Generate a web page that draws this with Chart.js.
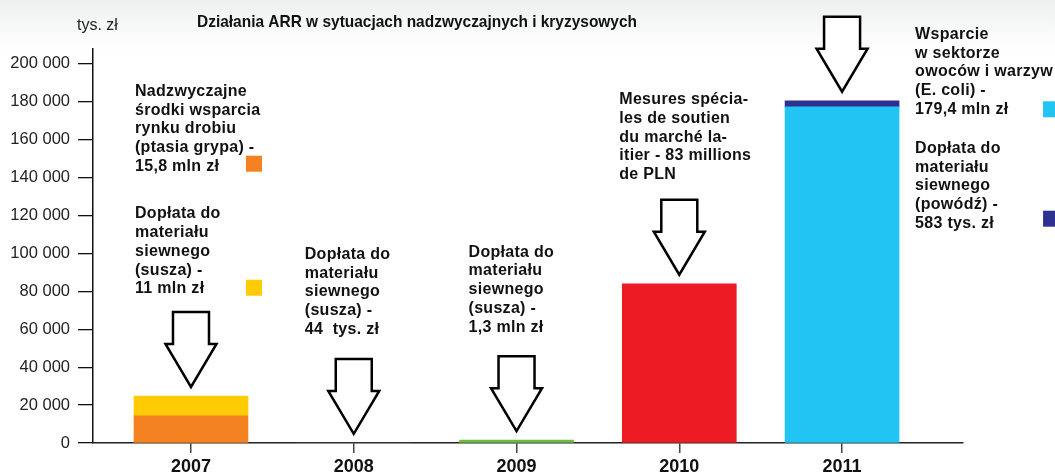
<!DOCTYPE html>
<html>
<head>
<meta charset="utf-8">
<script src="https://cdn.jsdelivr.net/npm/chart.js@4.4.1/dist/chart.umd.min.js"></script>
<style>
  html, body { margin: 0; padding: 0; background: #fff; }
  canvas { display: block; }
</style>
</head>
<body>
<canvas id="c" width="1055" height="474"></canvas>
<script>
// ---- data (tys. zł) ----
const years = [2007, 2008, 2009, 2010, 2011];
const yTicks = [0, 20000, 40000, 60000, 80000, 100000, 120000, 140000, 160000, 180000, 200000];
const ptasiaGrypa = [14300, 0, 0, 0, 0];
const susza2007 = [10500, 0, 0, 0, 0];
const susza2008 = [0, 44, 0, 0, 0];
const susza2009 = [0, 0, 1500, 0, 0];
const rynekMleka = [0, 0, 0, 84000, 0];
const eColi = [0, 0, 0, 0, 177300];
const powodz = [0, 0, 0, 0, 3200];

const chartTitle = 'Działania ARR w sytuacjach nadzwyczajnych i kryzysowych';
const unitLabel = 'tys. zł';
const note2007a = ['Nadzwyczajne', 'środki wsparcia', 'rynku drobiu', '(ptasia grypa) -', '15,8 mln zł'];
const note2007b = ['Dopłata do', 'materiału', 'siewnego', '(susza) -', '11 mln zł'];
const note2008 = ['Dopłata do', 'materiału', 'siewnego', '(susza) -', '44  tys. zł'];
const note2009 = ['Dopłata do', 'materiału', 'siewnego', '(susza) -', '1,3 mln zł'];
const note2010 = ['Mesures spécia-', 'les de soutien', 'du marché la-', 'itier - 83 millions', 'de PLN'];
const note2011a = ['Wsparcie', 'w sektorze', 'owoców i warzyw', '(E. coli) -', '179,4 mln zł'];
const note2011b = ['Dopłata do', 'materiału', 'siewnego', '(powódź) -', '583 tys. zł'];

// ---- styles ----
const C = {
  orange: '#F58220', yellow: '#FFCB05', green: '#6CBD45',
  red: '#ED1C24', cyan: '#21C4F2', navy: '#2E3192'
};

function mk(label, arr, color) {
  return {
    label: label,
    data: years.map((x, i) => ({ x: x, y: arr[i] })).filter(p => p.y > 0),
    backgroundColor: color,
    borderWidth: 0,
    stack: 's',
    barThickness: 114
  };
}

const datasets = [
  mk('Ptasia grypa', ptasiaGrypa, C.orange),
  mk('Susza 2007', susza2007, C.yellow),
  mk('Susza 2008', susza2008, 'rgba(108,189,69,0.15)'),
  mk('Susza 2009', susza2009, C.green),
  mk('Rynek mleka', rynekMleka, C.red),
  mk('E. coli', eColi, C.cyan),
  mk('Powódź', powodz, C.navy)
];

function stackTotal(i) {
  return ptasiaGrypa[i] + susza2007[i] + susza2008[i] + susza2009[i] + rynekMleka[i] + eColi[i] + powodz[i];
}

const annotLayout = {
  notes: [
    { year: 2007, dx: -56, yv: 185400, lines: note2007a },
    { year: 2007, dx: -56, yv: 120800, lines: note2007b },
    { year: 2008, dx: -49, yv: 99440, lines: note2008 },
    { year: 2009, dx: -48, yv: 100600, lines: note2009 },
    { year: 2010, dx: -60, yv: 181100, lines: note2010 },
    { year: 2011, dx: 73, yv: 215500, lines: note2011a },
    { year: 2011, dx: 73, yv: 155400, lines: note2011b }
  ],
  swatches: [
    { year: 2007, dx: 63, yv: 147300, color: C.orange },
    { year: 2007, dx: 63, yv: 81900, color: C.yellow },
    { year: 2011, dx: 209, yv: 176000, color: C.cyan },
    { year: 2011, dx: 209, yv: 118300, color: C.navy }
  ]
};

const bgPlugin = {
  id: 'bg',
  beforeDraw(chart) {
    const ctx = chart.ctx;
    ctx.save();
    ctx.fillStyle = '#fff';
    ctx.fillRect(0, 0, chart.width, chart.height);
    const g = ctx.createLinearGradient(0, 0, 0, 70);
    g.addColorStop(0, '#EBEFEE');
    g.addColorStop(1, 'rgba(255,255,255,0)');
    ctx.fillStyle = g;
    ctx.fillRect(0, 0, chart.width, 70);
    ctx.restore();
  }
};

const annotPlugin = {
  id: 'annot',
  afterDatasetsDraw(chart) {
    const ctx = chart.ctx;
    const xs = chart.scales.x, ys = chart.scales.y;
    ctx.save();
    // title (slightly condensed, as in the reference) and unit
    ctx.fillStyle = '#111';
    ctx.textBaseline = 'middle';
    ctx.textAlign = 'center';
    ctx.font = 'bold 17px "Liberation Sans", Arial, sans-serif';
    const tw = ctx.measureText(chartTitle).width;
    const sx = 440 / tw;
    ctx.save();
    ctx.translate(417, 22);
    ctx.scale(sx, 1);
    ctx.fillText(chartTitle, 0, 0);
    ctx.restore();
    ctx.textAlign = 'left';
    ctx.font = '16px "Liberation Sans", Arial, sans-serif';
    ctx.fillStyle = '#222';
    ctx.fillText(unitLabel, 77, 26);

    // arrows
    ctx.lineWidth = 2.5;
    ctx.strokeStyle = '#000';
    ctx.fillStyle = '#fff';
    ctx.lineJoin = 'miter';
    years.forEach((yr, i) => {
      const cx = xs.getPixelForValue(yr);
      const tip = ys.getPixelForValue(stackTotal(i)) - 9;
      const headH = 43, shaftH = 32, headW = 51, shaftW = 36;
      const base = tip - headH, top = base - shaftH;
      ctx.beginPath();
      ctx.moveTo(cx - shaftW / 2, top);
      ctx.lineTo(cx + shaftW / 2, top);
      ctx.lineTo(cx + shaftW / 2, base);
      ctx.lineTo(cx + headW / 2, base);
      ctx.lineTo(cx, tip);
      ctx.lineTo(cx - headW / 2, base);
      ctx.lineTo(cx - shaftW / 2, base);
      ctx.closePath();
      ctx.fill();
      ctx.stroke();
    });

    // notes
    ctx.fillStyle = '#111';
    ctx.textAlign = 'left';
    ctx.textBaseline = 'middle';
    ctx.font = 'bold 16px "Liberation Sans", Arial, sans-serif';
    try { ctx.letterSpacing = '0.3px'; } catch (e) {}
    annotLayout.notes.forEach(n => {
      const x = xs.getPixelForValue(n.year) + n.dx;
      const y0 = ys.getPixelForValue(n.yv);
      n.lines.forEach((t, k) => ctx.fillText(t, x, y0 + k * 18.75));
    });
    try { ctx.letterSpacing = '0px'; } catch (e) {}

    // swatches
    annotLayout.swatches.forEach(s => {
      const x = xs.getPixelForValue(s.year) + s.dx;
      const y = ys.getPixelForValue(s.yv);
      ctx.fillStyle = s.color;
      ctx.fillRect(x - 8, y - 8, 16, 16);
    });
    ctx.restore();
  }
};

const fmt = v => String(v).replace(/\B(?=(\d{3})+(?!\d))/g, ' ');

new Chart(document.getElementById('c'), {
  type: 'bar',
  data: { datasets: datasets },
  plugins: [bgPlugin, annotPlugin],
  options: {
    responsive: false,
    devicePixelRatio: 1,
    animation: false,
    layout: { padding: { top: 49, right: 92, left: 0, bottom: 0 } },
    plugins: { legend: { display: false }, tooltip: { enabled: false }, title: { display: false } },
    scales: {
      x: {
        type: 'linear',
        min: 2006.398,
        max: 2011.743,
        offset: false,
        afterBuildTicks: s => { s.ticks = years.map(v => ({ value: v })); },
        afterFit: s => { s.height = 31; },
        grid: { drawOnChartArea: false, drawTicks: true, tickLength: 10, color: '#444', lineWidth: 1.5, offset: false },
        border: { display: true, color: '#222', width: 1.5 },
        ticks: {
          callback: v => String(v),
          font: { family: '"Liberation Sans", Arial, sans-serif', size: 18, weight: 'bold' },
          color: '#111',
          padding: 3,
          maxRotation: 0,
          autoSkip: false
        }
      },
      y: {
        stacked: true,
        min: 0,
        max: 207800,
        afterBuildTicks: s => { s.ticks = yTicks.map(v => ({ value: v })); },
        afterFit: s => { s.width = 93; },
        grid: { drawOnChartArea: false, drawTicks: true, tickLength: 15, color: '#111', lineWidth: 1.3 },
        border: { display: true, color: '#111', width: 1.5 },
        ticks: {
          callback: v => fmt(v),
          font: { family: '"Liberation Sans", Arial, sans-serif', size: 16.5 },
          color: '#222',
          padding: 8
        }
      }
    }
  }
});
</script>
</body>
</html>
